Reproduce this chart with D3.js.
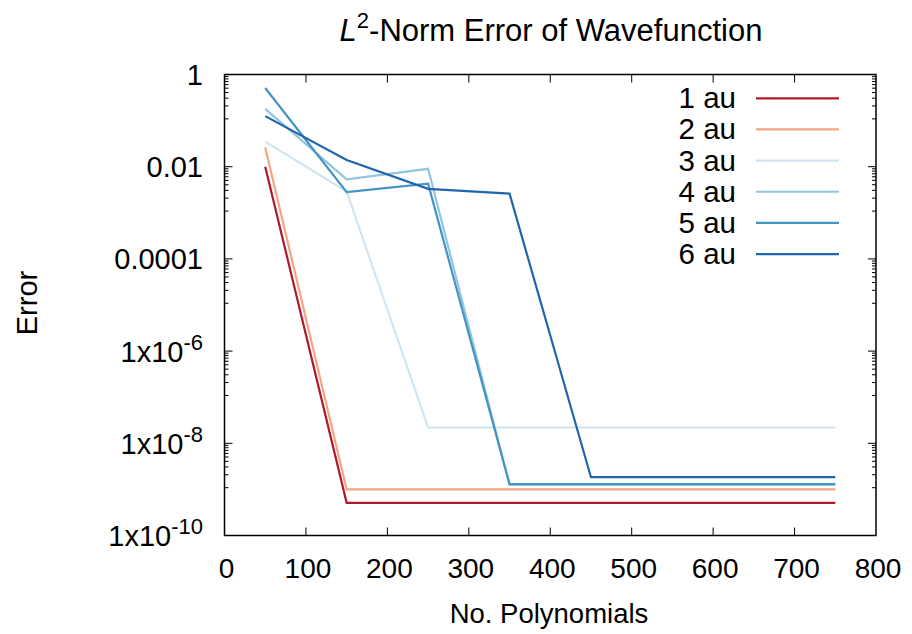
<!DOCTYPE html>
<html>
<head>
<meta charset="utf-8">
<script src="https://cdn.jsdelivr.net/npm/d3@7"></script>
<style>
  body { margin: 0; background: #fff; }
  text { font-family: "Liberation Sans", Arial, sans-serif; fill: #000; }
</style>
</head>
<body>
<svg id="chart" width="912" height="634"></svg>
<script>
// ---- data ----
const nPoly = [50, 150, 250, 350, 450, 550, 650, 750];
const seriesNames = ["1 au", "2 au", "3 au", "4 au", "5 au", "6 au"];
const au1 = [0.010, 5.1e-10, 5.1e-10, 5.1e-10, 5.1e-10, 5.1e-10, 5.1e-10, 5.1e-10];
const au2 = [0.026, 1.0e-9, 1.0e-9, 1.0e-9, 1.0e-9, 1.0e-9, 1.0e-9, 1.0e-9];
const au3 = [0.035, 0.0029, 2.2e-8, 2.2e-8, 2.2e-8, 2.2e-8, 2.2e-8, 2.2e-8];
const au4 = [0.18, 0.0053, 0.0090, 1.26e-9, 1.26e-9, 1.26e-9, 1.26e-9, 1.26e-9];
const au5 = [0.51, 0.0028, 0.0043, 1.3e-9, 1.3e-9, 1.3e-9, 1.3e-9, 1.3e-9];
const au6 = [0.125, 0.0140, 0.0033, 0.0026, 1.84e-9, 1.84e-9, 1.84e-9, 1.84e-9];
const seriesValues = [au1, au2, au3, au4, au5, au6];
const colors = ["#b2182b", "#f4a582", "#d1e5f0", "#92c5de", "#4393c3", "#2166ac"];
const xTicks = [0, 100, 200, 300, 400, 500, 600, 700, 800];
const yTicks = [1, 1e-2, 1e-4, 1e-6, 1e-8, 1e-10];
const yTickLabels = [["1", null], ["0.01", null], ["0.0001", null], ["1x10", "-6"], ["1x10", "-8"], ["1x10", "-10"]];

// ---- layout ----
const L = 224.5, R = 876, T = 74.5, B = 535.5;
const svg = d3.select("#chart");
const x = d3.scaleLinear().domain([0, 800]).range([L, R]);
const y = d3.scaleLog().domain([1e-10, 1]).range([B, T]);

// lines
const line = d3.line().x((d, i) => x(nPoly[i])).y(d => y(d));
seriesValues.forEach((vals, k) => {
  svg.append("path").datum(vals)
    .attr("d", line)
    .attr("fill", "none")
    .attr("stroke", colors[k])
    .attr("stroke-width", 2.2)
    .attr("stroke-linejoin", "miter");
});

// frame
svg.append("rect").attr("x", L).attr("y", T).attr("width", R - L).attr("height", B - T)
  .attr("fill", "none").attr("stroke", "#000").attr("stroke-width", 1.5);

const tickG = svg.append("g").attr("stroke", "#000").attr("stroke-width", 1);
// x ticks (bottom and top, inward)
xTicks.forEach(t => {
  if (t === 0 || t === 800) return;
  tickG.append("line").attr("x1", x(t)).attr("x2", x(t)).attr("y1", B).attr("y2", B - 8);
  tickG.append("line").attr("x1", x(t)).attr("x2", x(t)).attr("y1", T).attr("y2", T + 8);
});
xTicks.forEach(t => {
  svg.append("text").attr("x", x(t) + 2).attr("y", 578).attr("text-anchor", "middle")
    .attr("font-size", 28).text(t);
});

// y ticks major + minor (linear subdivision between major tics)
yTicks.forEach((t, i) => {
  if (i > 0 && i < yTicks.length - 1) {
    tickG.append("line").attr("x1", L).attr("x2", L + 8).attr("y1", y(t)).attr("y2", y(t));
    tickG.append("line").attr("x1", R).attr("x2", R - 8).attr("y1", y(t)).attr("y2", y(t));
  }
  if (i < yTicks.length - 1) {
    const hi = t, lo = yTicks[i + 1];
    for (let j = 1; j <= 9; j++) {
      const v = lo + j * (hi - lo) / 10;
      tickG.append("line").attr("x1", L).attr("x2", L + 4).attr("y1", y(v)).attr("y2", y(v));
      tickG.append("line").attr("x1", R).attr("x2", R - 4).attr("y1", y(v)).attr("y2", y(v));
    }
  }
  const lab = yTickLabels[i];
  const tx = svg.append("text").attr("x", 203).attr("y", y(t) + 10.5).attr("text-anchor", "end")
    .attr("font-size", 29);
  tx.append("tspan").text(lab[0]);
  if (lab[1]) tx.append("tspan").attr("dy", -12).attr("font-size", 22).text(lab[1]);
});

// title
const title = svg.append("text").attr("x", 551).attr("y", 41).attr("text-anchor", "middle").attr("font-size", 31);
title.append("tspan").attr("font-style", "italic").text("L");
title.append("tspan").attr("dy", -13).attr("font-size", 22).text("2");
title.append("tspan").attr("dy", 13).text("-Norm Error of Wavefunction");

// axis titles
svg.append("text").attr("x", 549).attr("y", 623).attr("text-anchor", "middle").attr("font-size", 27.5)
  .text("No. Polynomials");
svg.append("text").attr("transform", "translate(37,303) rotate(-90)").attr("text-anchor", "middle")
  .attr("font-size", 29).text("Error");

// legend
seriesNames.forEach((name, k) => {
  const yy = 98.3 + k * 31.15;
  svg.append("text").attr("x", 736).attr("y", yy + 10).attr("text-anchor", "end").attr("font-size", 29.5).text(name);
  svg.append("line").attr("x1", 756).attr("x2", 839).attr("y1", yy).attr("y2", yy)
    .attr("stroke", colors[k]).attr("stroke-width", 2.2);
});
</script>
</body>
</html>
